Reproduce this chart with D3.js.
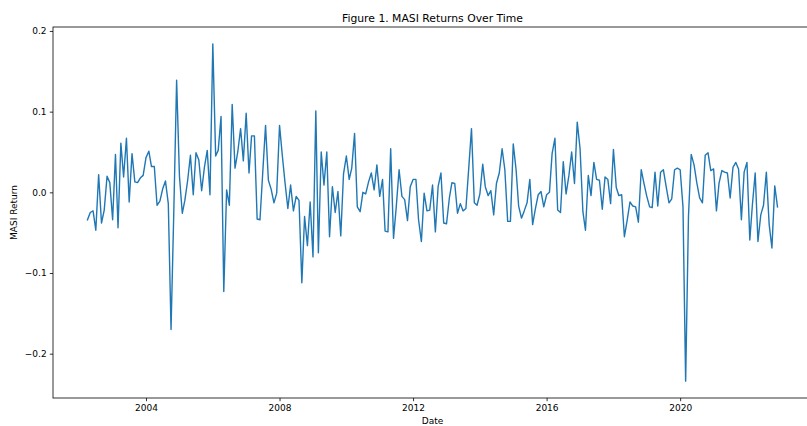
<!DOCTYPE html>
<html>
<head>
<meta charset="utf-8">
<script src="https://cdn.jsdelivr.net/npm/d3@7"></script>
<style>
    body { margin: 0; background: #fff; overflow: hidden; }
    text { font-family: "DejaVu Sans", sans-serif; fill: #000; }
</style>
</head>
<body>
<script>
// monthly MASI returns, first month = April 2002, last = December 2022
var startMonth = "2002-04";
var returns = [
    -0.034, -0.025, -0.023, -0.047, 0.022, -0.038, -0.022, 0.020, 0.012, -0.034, 0.047, -0.044,
    0.061, 0.019, 0.067, -0.012, 0.048, 0.013, 0.012, 0.018, 0.021, 0.043, 0.051, 0.032,
    0.032, -0.016, -0.011, 0.004, 0.014, -0.014, -0.170, -0.020, 0.139, 0.020, -0.026, -0.010,
    0.015, 0.046, -0.003, 0.049, 0.040, 0.002, 0.031, 0.052, -0.003, 0.184, 0.045, 0.052,
    0.094, -0.123, 0.003, -0.016, 0.109, 0.030, 0.050, 0.079, 0.039, 0.098, 0.024, 0.070,
    0.070, -0.033, -0.034, 0.024, 0.083, 0.015, 0.004, -0.013, -0.001, 0.083, 0.045, 0.012,
    -0.020, 0.009, -0.023, -0.005, -0.010, -0.112, -0.030, -0.066, -0.012, -0.080, 0.101, -0.075,
    0.050, 0.009, 0.050, -0.055, 0.007, -0.025, 0.001, -0.054, 0.023, 0.045, 0.016, 0.030,
    0.073, -0.018, -0.024, 0.000, -0.002, 0.013, 0.024, 0.003, 0.034, -0.005, 0.016, -0.048,
    -0.049, 0.054, -0.057, -0.018, 0.028, -0.005, -0.009, -0.035, 0.007, 0.016, 0.016, -0.034,
    -0.061, -0.001, -0.023, -0.022, 0.009, -0.049, 0.007, 0.024, -0.038, -0.039, -0.007, 0.012,
    0.011, -0.026, -0.014, -0.023, -0.020, 0.030, 0.079, -0.013, -0.016, -0.002, 0.035, 0.007,
    -0.004, 0.002, -0.028, 0.011, 0.024, 0.054, 0.028, -0.036, -0.036, 0.060, 0.028, -0.017,
    -0.032, -0.023, -0.013, 0.016, -0.040, -0.020, -0.003, 0.001, -0.018, -0.003, 0.000, 0.048,
    0.067, -0.022, -0.025, 0.038, -0.002, 0.021, 0.050, 0.011, 0.087, 0.054, -0.024, -0.047,
    0.021, -0.004, 0.037, 0.016, 0.015, -0.021, 0.019, 0.016, -0.014, 0.053, 0.006, -0.004,
    -0.003, -0.055, -0.034, -0.012, -0.017, -0.018, -0.037, 0.028, 0.011, -0.005, -0.018, -0.019,
    0.025, -0.017, 0.025, 0.028, 0.007, -0.013, -0.008, 0.028, 0.030, 0.028, -0.018, -0.234,
    -0.030, 0.047, 0.034, 0.012, -0.007, -0.013, 0.046, 0.049, 0.027, 0.029, -0.023, 0.011,
    0.027, 0.025, 0.024, -0.007, 0.031, 0.037, 0.029, -0.034, 0.025, 0.037, -0.059, -0.016,
    0.024, -0.061, -0.028, -0.016, 0.025, -0.040, -0.069, 0.008, -0.018
];
var yTicks = [-0.2, -0.1, 0.0, 0.1, 0.2];
var titleText = "Figure 1. MASI Returns Over Time";
var xLabel = "Date";
var yLabel = "MASI Return";

(function(){

    var w = 807, h = 426;
    var left = 53, right = 812, top = 27, bottom = 398;
    var tickLen = 3.2, tickPad = 3.2;

    var start = d3.timeParse("%Y-%m")(startMonth);
    var data = returns.map(function(d, i) {
        return { date: d3.timeMonth.offset(start, i), value: d };
    });

    var svg = d3.select("body")
        .append("svg")
        .attr("width", w)
        .attr("height", h);

    // matplotlib style 5% margins on both axes
    var tExt = d3.extent(data, function(d) { return +d.date; });
    var tPad = (tExt[1] - tExt[0]) * 0.05;
    var x = d3.scaleTime()
        .domain([new Date(tExt[0] - tPad), new Date(tExt[1] + tPad)])
        .range([left, right]);

    var vExt = d3.extent(returns);
    var vPad = (vExt[1] - vExt[0]) * 0.05;
    var y = d3.scaleLinear()
        .domain([vExt[0] - vPad, vExt[1] + vPad])
        .range([bottom, top]);

    drawAxes();
    drawLine();
    drawFrame();
    drawLabels();

    function drawLine(){
        var line = d3.line()
            .x(function(d) { return x(d.date); })
            .y(function(d) { return y(d.value); });

        svg.append("path")
            .datum(data)
            .attr("d", line)
            .attr("fill", "none")
            .attr("stroke", "#1f77b4")
            .attr("stroke-width", 1.4)
            .attr("stroke-linejoin", "round")
            .attr("stroke-linecap", "square");
    }

    function drawAxes(){
        var xAxis = d3.axisBottom(x)
            .ticks(d3.timeYear.every(4))
            .tickFormat(d3.timeFormat("%Y"))
            .tickSize(tickLen)
            .tickPadding(tickPad);

        var gx = svg.append("g")
            .attr("transform", "translate(0," + bottom + ")")
            .call(xAxis);

        var yAxis = d3.axisLeft(y)
            .tickValues(yTicks)
            .tickFormat(d3.format(".1f"))
            .tickSize(tickLen)
            .tickPadding(tickPad);

        var gy = svg.append("g")
            .attr("transform", "translate(" + left + ",0)")
            .call(yAxis);

        [gx, gy].forEach(function(g) {
            g.select(".domain").remove();
            g.selectAll(".tick line").attr("stroke", "#000").attr("stroke-width", 0.8);
            g.selectAll(".tick text")
                .attr("fill", "#000")
                .style("font-family", "DejaVu Sans")
                .style("font-size", "9px");
        });
    }

    function drawFrame(){
        svg.append("rect")
            .attr("x", left)
            .attr("y", top)
            .attr("width", right - left)
            .attr("height", bottom - top)
            .attr("fill", "none")
            .attr("stroke", "#000")
            .attr("stroke-width", 0.8);
    }

    function drawLabels(){
        svg.append("text")
            .attr("x", (left + right) / 2)
            .attr("y", 21.5)
            .attr("text-anchor", "middle")
            .style("font-size", "10.8px")
            .text(titleText);

        // sits at the very bottom edge, as in the source figure
        svg.append("text")
            .attr("x", (left + right) / 2)
            .attr("y", 423.5)
            .attr("text-anchor", "middle")
            .style("font-size", "9px")
            .text(xLabel);

        svg.append("text")
            .attr("transform", "translate(17," + (top + bottom) / 2 + ") rotate(-90)")
            .attr("text-anchor", "middle")
            .style("font-size", "9px")
            .text(yLabel);
    }
}());
</script>
</body>
</html>
